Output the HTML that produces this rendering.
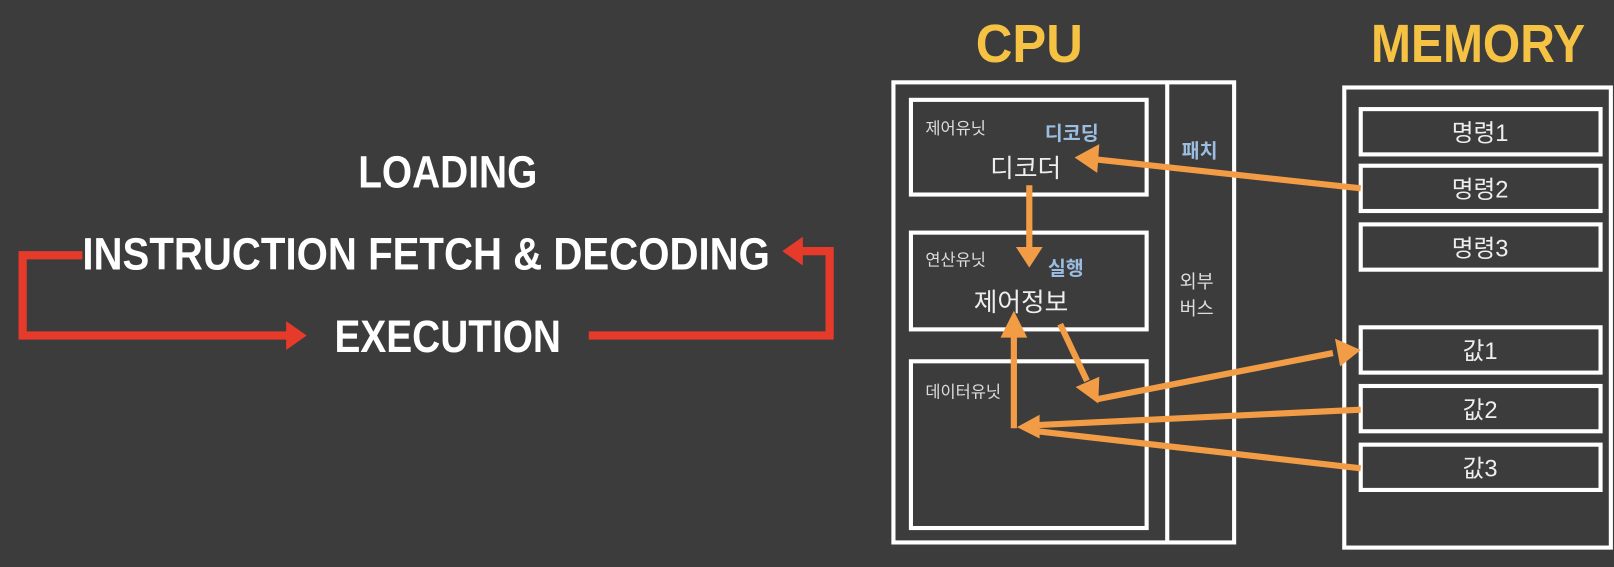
<!DOCTYPE html>
<html><head><meta charset="utf-8"><style>
html,body{margin:0;padding:0;background:#3c3c3c;}
svg{display:block}
.k{font-family:"Liberation Sans","Noto Sans CJK KR",sans-serif;}
</style></head><body>
<svg width="1614" height="567" viewBox="0 0 1614 567" xmlns="http://www.w3.org/2000/svg">
<rect width="1614" height="567" fill="#3c3c3c"/>
<g transform="scale(1.0293)">
<g font-family="'Liberation Sans Narrow','Liberation Sans',sans-serif" font-weight="bold" fill="#fff" font-size="44">
<text x="348" y="182" textLength="174" lengthAdjust="spacingAndGlyphs">LOADING</text>
<text x="80" y="262" textLength="668" lengthAdjust="spacingAndGlyphs">INSTRUCTION FETCH &amp; DECODING</text>
<text x="325" y="342" textLength="220" lengthAdjust="spacingAndGlyphs">EXECUTION</text>
</g>
<g fill="none" stroke="#e63a2a" stroke-width="8">
<polyline points="80,248 22,248 22,326 280,326"/>
<polyline points="572,326 806,326 806,244 778,244"/>
</g>
<polygon points="278,312 298,326 278,340" fill="#e63a2a"/>
<polygon points="780,230 760,244 780,258" fill="#e63a2a"/>
<g font-family="'Liberation Sans Narrow','Liberation Sans',sans-serif" font-weight="bold" fill="#f5c243" font-size="52">
<text x="948" y="60" textLength="104" lengthAdjust="spacingAndGlyphs">CPU</text>
<text x="1332" y="60" textLength="208" lengthAdjust="spacingAndGlyphs">MEMORY</text>
</g>
<g fill="none" stroke="#fff" stroke-width="4">
<rect x="868" y="80" width="331" height="447"/>
<line x1="1134" y1="80" x2="1134" y2="527"/>
<rect x="885" y="97" width="229" height="92"/>
<rect x="885" y="226" width="229" height="94"/>
<rect x="885" y="351" width="229" height="162"/>
<rect x="1306" y="85" width="259" height="447"/>
<rect x="1322" y="106" width="233" height="44"/>
<rect x="1322" y="161" width="233" height="44"/>
<rect x="1322" y="218" width="233" height="44"/>
<rect x="1322" y="318" width="233" height="44"/>
<rect x="1322" y="375" width="233" height="44"/>
<rect x="1322" y="432" width="233" height="44"/>
</g>
<g class="k" fill="#ddd" font-size="16">
<text x="899" y="130">제어유닛</text>
<text x="899" y="258">연산유닛</text>
<text x="899" y="386">데이터유닛</text>
<text x="1146" y="280" font-size="18">외부</text>
<text x="1146" y="306" font-size="18">버스</text>
</g>
<g class="k" fill="#9bbde0" font-size="19" font-weight="bold">
<text x="1015" y="136">디코딩</text>
<text x="1018" y="267">실행</text>
<text x="1148" y="153">패치</text>
</g>
<g class="k" fill="#eee" font-size="25">
<text x="962" y="172">디코더</text>
<text x="946" y="302">제어정보</text>
</g>
<g class="k" fill="#eee" font-size="23" text-anchor="middle">
<text x="1438" y="137">명령1</text>
<text x="1438" y="192">명령2</text>
<text x="1438" y="249">명령3</text>
<text x="1438" y="349">값1</text>
<text x="1438" y="406">값2</text>
<text x="1438" y="463">값3</text>
</g>
<g stroke="#f29d45" stroke-width="6" fill="none">
<line x1="1322" y1="183" x2="1066" y2="155"/>
<line x1="1000" y1="180" x2="1000" y2="240"/>
<line x1="1030" y1="315" x2="1056" y2="370"/>
<line x1="1065" y1="388" x2="1295" y2="343"/>
<line x1="1322" y1="398" x2="1008" y2="413"/>
<line x1="1322" y1="455" x2="1008" y2="419"/>
<line x1="985" y1="416" x2="985" y2="325"/>
</g>
<g fill="#f29d45">
<polygon points="1044,153 1068,140 1066,168"/>
<polygon points="987,240 1013,240 1000,260"/>
<polygon points="1045,376 1068,366 1067,392"/>
<polygon points="1322,340 1297,329 1302,356"/>
<polygon points="988,415 1010,403 1010,426"/>
<polygon points="985,302 972,328 998,328"/>
</g>
</g>
</svg>
</body></html>
